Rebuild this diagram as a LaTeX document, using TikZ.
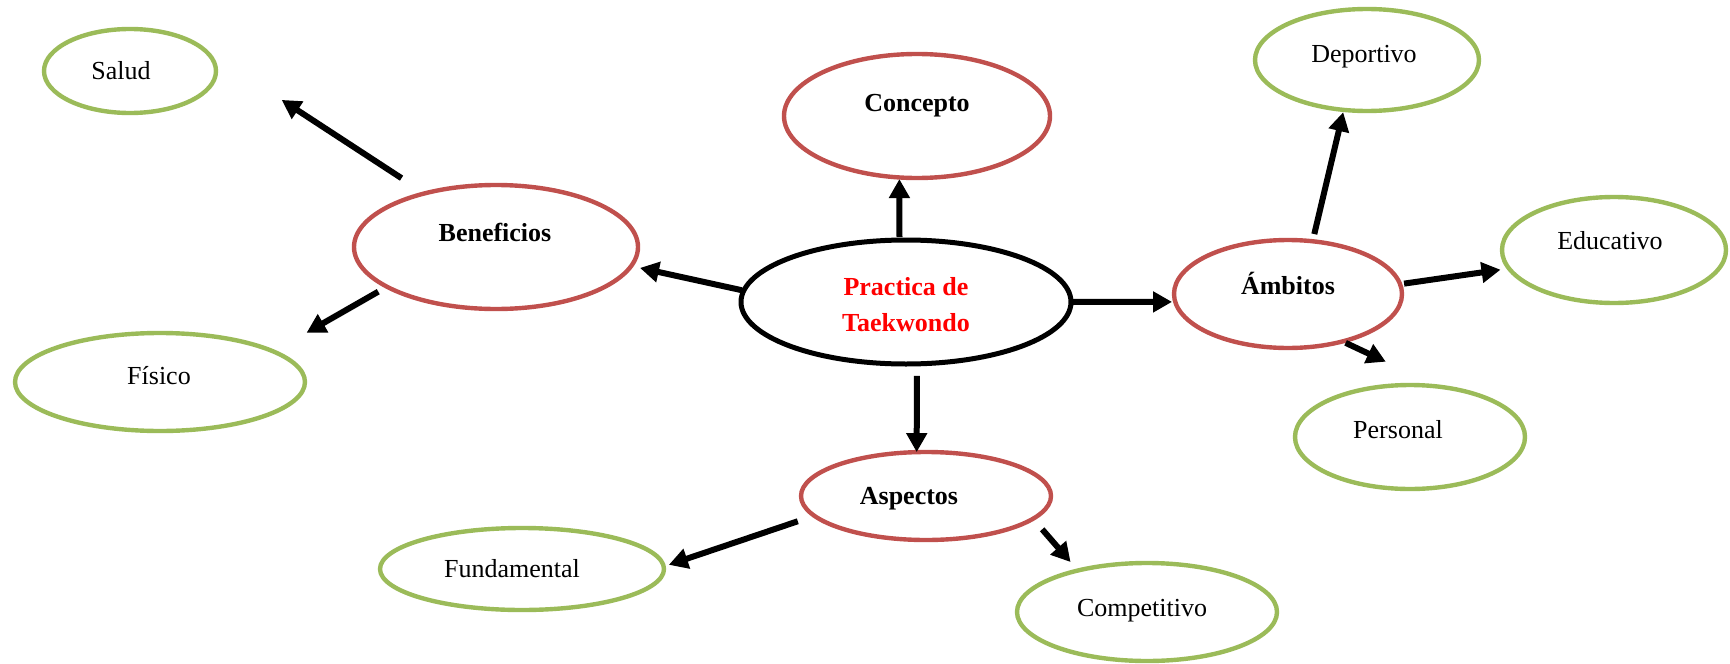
\documentclass[tikz,border=0pt]{standalone}
\usepackage{fontspec}
\setmainfont{Liberation Serif}
\usepackage{xcolor}
\usepackage{tikz}
\usetikzlibrary{shapes.geometric, arrows.meta}

\definecolor{ramared}{HTML}{C0504D}
\definecolor{hojagreen}{HTML}{9BBB59}

\begin{document}
\begin{tikzpicture}[
    x=0.5pt, y=-0.5pt,
    core/.style={ellipse, draw=black, line width=2.5pt, inner sep=0pt, outer sep=0pt},
    rama/.style={ellipse, draw=ramared, line width=2.2pt, inner sep=0pt, outer sep=0pt},
    hoja/.style={ellipse, draw=hojagreen, line width=2.2pt, inner sep=0pt, outer sep=0pt},
    dims/.style 2 args={minimum width=#1pt, minimum height=#2pt},
    word/.style={font=\fontsize{13}{18}\selectfont, text height=9pt, text depth=0pt},
    boldword/.style={word, font=\fontsize{13}{18}\selectfont\bfseries},
    flecha/.style={-{Triangle[length=9.5pt, width=10pt]}, line width=3pt}
]
    \useasboundingbox (0,0) rectangle (1730,664);

    % Layout
    \node[core, dims={165}{62}, label={[font=\fontsize{13}{18}\selectfont\bfseries, text=red, align=center, shift={(0,3)}]center:Practica de\\Taekwondo}] (prac) at (906,302) {};
    \node[rama, dims={133}{62}, label={[boldword, shift={(0,-14)}]center:Concepto}] (conc) at (917,116) {};
    \node[rama, dims={142}{62}, label={[boldword, shift={(-1,-15)}]center:Beneficios}] (benef) at (496,247) {};
    \node[rama, dims={114}{54}, label={[boldword, shift={(0,-9)}]center:Ámbitos}] (amb) at (1288,294) {};
    \node[rama, dims={125}{44}, label={[boldword, shift={(-17,-1)}]center:Aspectos}] (asp) at (926,496) {};

    \node[hoja, dims={86}{42}, label={[word, shift={(-9,-1)}]center:Salud}] (salud) at (130,71) {};
    \node[hoja, dims={145}{49}, label={[word, shift={(-1,-7)}]center:Físico}] (fisico) at (160,382) {};
    \node[hoja, dims={112}{51}, label={[word, shift={(-3,-7)}]center:Deportivo}] (dep) at (1367,60) {};
    \node[hoja, dims={112}{53}, label={[word, shift={(-4,-10)}]center:Educativo}] (edu) at (1614,250) {};
    \node[hoja, dims={115}{52}, label={[word, shift={(-12,-8)}]center:Personal}] (pers) at (1410,437) {};
    \node[hoja, dims={142}{41}, label={[word, shift={(-10,-1)}]center:Fundamental}] (fund) at (522,569) {};
    \node[hoja, dims={130}{49}, label={[word, shift={(-5,-5)}]center:Competitivo}] (comp) at (1147,612) {};

    % Arrows
    \draw[flecha, shorten <=1.5pt, shorten >=0.8pt] (prac.96) -- (conc.254);
    \draw[flecha, shorten <=1pt, shorten >=4.5pt] (prac.176) -- (benef.352);
    \draw[flecha, shorten <=1pt, shorten >=1.6pt] (prac.east) -- (amb.184);
    \draw[flecha, shorten <=6pt] (prac.280) -- (asp.102);
    \draw[flecha, shorten <=13.9pt, shorten >=49.4pt] (benef.143) -- (salud.20);
    \draw[flecha, shorten <=5pt, shorten >=19pt] (benef.200) -- (fisico.15);
    \draw[flecha, shorten <=3.7pt, shorten >=1.2pt] (amb.65) -- (dep.245);
    \draw[flecha, shorten <=2pt, shorten >=4.3pt] (amb.5) -- (edu.190);
    \draw[flecha, shorten <=1.7pt, shorten >=29.4pt] (amb.319) -- (pers.60);
    \draw[flecha, shorten <=8.7pt, shorten >=2.7pt] (asp.190) -- (fund.1);
    \draw[flecha, shorten <=7pt, shorten >=5.6pt] (asp.348) -- (comp.149);
\end{tikzpicture}
\end{document}
